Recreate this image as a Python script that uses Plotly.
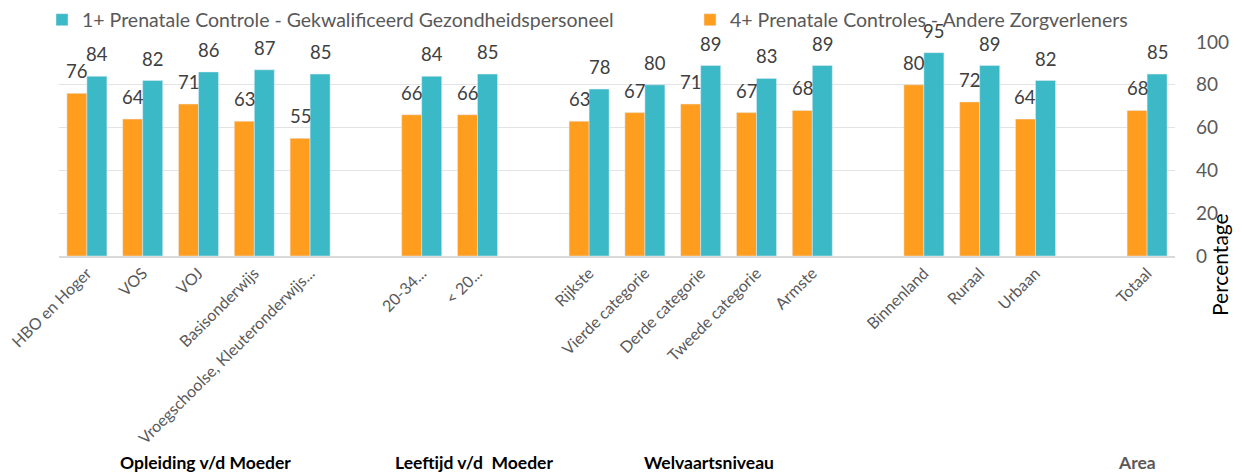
import plotly.graph_objects as go

groups = ["Opleiding v/d Moeder", "Leeftijd v/d  Moeder", "Welvaartsniveau", "Area"]
group_categories = [
    ["HBO en Hoger", "VOS", "VOJ", "Basisonderwijs", "Vroegschoolse, Kleuteronderwijs..."],
    ["20-34...", "< 20..."],
    ["Rijkste", "Vierde categorie", "Derde categorie", "Tweede categorie", "Armste"],
    ["Binnenland", "Ruraal", "Urbaan"],
    ["Totaal"],
]
vier_plus = [76, 64, 71, 63, 55, 66, 66, 63, 67, 71, 67, 68, 80, 72, 64, 68]
een_plus = [84, 82, 86, 87, 85, 84, 85, 78, 80, 89, 83, 89, 95, 89, 82, 85]
name_vier = "4+ Prenatale Controles - Andere Zorgverleners"
name_een = "1+ Prenatale Controle - Gekwalificeerd Gezondheidspersoneel"

# positions with a blank slot between groups
cats, xs = [], []
pos = 0
for g in group_categories:
    for c in g:
        cats.append(c)
        xs.append(pos)
        pos += 1
    pos += 1
x_max = xs[-1]

ORANGE = "#FF9D1E"
TEAL = "#3BB9C6"
GRAY = "#595959"
FONT = "Lato"

L, R, T, B = 51, 75, 34, 225
PW = 1242 - L - R
PH = 473 - T - B
BARGAP = 0.283
slot_px = PW / (x_max + 1)
bar_px = slot_px * (1 - BARGAP) / 2

fig = go.Figure()
fig.add_trace(go.Bar(x=xs, y=vier_plus, name=name_vier, marker_color=ORANGE,
                     legend="legend2"))
fig.add_trace(go.Bar(x=xs, y=een_plus, name=name_een, marker_color=TEAL,
                     legend="legend"))

# value labels above bars
for vals, side in ((vier_plus, -1), (een_plus, 1)):
    for xv, v in zip(xs, vals):
        fig.add_annotation(x=xv, y=v, xref="x", yref="y", text=str(v), showarrow=False,
                           xshift=side * bar_px / 2, yshift=22, yanchor="middle",
                           font=dict(size=18.5, color="#404040", family=FONT))

leg_common = dict(orientation="h", xanchor="left", yanchor="middle", y=1 + (T - 12) / PH,
                  bgcolor="rgba(0,0,0,0)", itemwidth=30,
                  font=dict(size=19.5, color=GRAY, family=FONT))
fig.update_layout(
    width=1242, height=473,
    margin=dict(l=L, r=R, t=T, b=B, autoexpand=False),
    paper_bgcolor="white", plot_bgcolor="white",
    barmode="group", bargap=BARGAP, bargroupgap=0,
    font=dict(family=FONT, color=GRAY),
    showlegend=True,
    legend=dict(x=-17 / PW, **leg_common),
    legend2=dict(x=631 / PW, **leg_common),
)
fig.update_xaxes(range=[-0.5, x_max + 0.5], tickmode="array", tickvals=xs, ticktext=cats,
                 tickangle=-45, tickfont=dict(size=16, color=GRAY, family=FONT),
                 ticklabeloverflow="allow",
                 showgrid=False, showline=True, linecolor="#D9D9D9", linewidth=1.5,
                 ticks="", zeroline=False)
fig.update_yaxes(range=[0, 100], side="right", dtick=20, showgrid=True,
                 gridcolor="#E3E3E3", gridwidth=1,
                 tickfont=dict(size=19, color=GRAY, family=FONT),
                 ticks="", showline=False, ticklabelstandoff=20, zeroline=False)

fig.add_annotation(text="Percentage", textangle=-90, xref="paper", yref="paper",
                   x=1.0, xshift=44, y=-9 / PH, xanchor="center", yanchor="middle",
                   showarrow=False, font=dict(size=21, color="black", family=FONT))

label_x = [2.13, 6.93, 11.14, 18.82]
label_col = ["black", "black", "black", GRAY]
for gname, lx, col in zip(groups, label_x, label_col):
    fig.add_annotation(text="<b>" + gname + "</b>", xref="x", yref="paper", x=lx,
                       y=-206 / PH, showarrow=False, yanchor="middle",
                       font=dict(size=17.5, color=col, family=FONT))

fig.write_html("out.html")
